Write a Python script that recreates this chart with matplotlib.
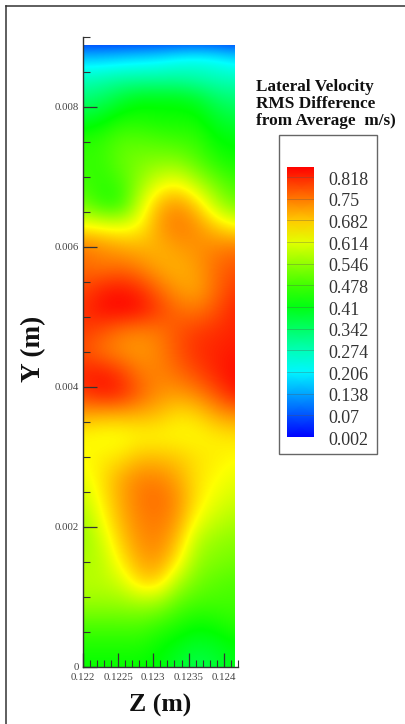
import numpy as np
import matplotlib
matplotlib.use("Agg")
import matplotlib.pyplot as plt
from matplotlib.colors import LinearSegmentedColormap, Normalize
from matplotlib.patches import Rectangle
from matplotlib.lines import Line2D
from matplotlib.ticker import FixedLocator

plt.rcParams['font.family'] = ['Liberation Serif', 'DejaVu Serif']

W, H = 406, 724

# grid spacing of the field (rows listed from y=0 upward, columns from z=0.122)
z_first, z_step, z_count = 0.122, 0.00027, 9
y_first, y_step, y_count = 0.0, 0.0003, 31
z_data_end, y_data_end = 0.12416, 0.00889

velocity_rows = [
    [.43, .43, .43, .43, .42, .39, .36, .38, .41],
    [.45, .45, .45, .45, .43, .41, .39, .40, .42],
    [.49, .49, .49, .49, .47, .45, .43, .44, .46],
    [.55, .55, .55, .56, .55, .50, .48, .48, .48],
    [.58, .58, .60, .67, .67, .57, .52, .50, .49],
    [.57, .58, .65, .71, .72, .65, .55, .53, .52],
    [.55, .60, .68, .73, .74, .69, .58, .55, .54],
    [.56, .63, .70, .74, .75, .72, .63, .59, .57],
    [.59, .65, .71, .75, .76, .73, .66, .62, .60],
    [.62, .66, .71, .74, .74, .71, .66, .64, .62],
    [.64, .65, .66, .69, .69, .68, .66, .65, .64],
    [.64, .63, .63, .64, .64, .64, .64, .65, .66],
    [.71, .70, .70, .70, .69, .66, .67, .71, .73],
    [.80, .83, .82, .77, .73, .72, .74, .78, .83],
    [.82, .83, .80, .75, .74, .76, .79, .82, .84],
    [.78, .75, .73, .72, .74, .78, .81, .82, .83],
    [.80, .78, .75, .74, .75, .78, .80, .81, .82],
    [.81, .84, .85, .84, .80, .76, .75, .78, .82],
    [.79, .82, .83, .81, .76, .72, .71, .76, .80],
    [.76, .75, .76, .74, .71, .70, .72, .76, .78],
    [.75, .73, .71, .70, .70, .72, .73, .74, .75],
    [.64, .63, .62, .64, .72, .75, .73, .68, .64],
    [.52, .46, .46, .60, .70, .73, .68, .58, .52],
    [.48, .46, .48, .55, .62, .64, .58, .52, .48],
    [.47, .47, .51, .53, .54, .54, .50, .46, .44],
    [.46, .47, .50, .50, .49, .48, .47, .43, .42],
    [.40, .42, .45, .45, .44, .44, .44, .40, .38],
    [.33, .35, .39, .42, .42, .42, .40, .35, .33],
    [.27, .28, .29, .29, .29, .29, .28, .27, .27],
    [.17, .17, .18, .19, .20, .22, .23, .22, .19],
    [.002, .002, .002, .002, .002, .002, .002, .002, .002],
]

legend_levels = [0.818, 0.75, 0.682, 0.614, 0.546, 0.478, 0.41, 0.342, 0.274, 0.206, 0.138, 0.07, 0.002]
legend_labels = ['0.818', '0.75', '0.682', '0.614', '0.546', '0.478', '0.41', '0.342', '0.274', '0.206', '0.138', '0.07', '0.002']
value_min, value_max = 0.002, 0.85

z_major = [0.122, 0.1225, 0.123, 0.1235, 0.124]
z_major_labels = ['0.122', '0.1225', '0.123', '0.1235', '0.124']
z_minor = [0.1221, 0.1222, 0.1223, 0.1224, 0.1226, 0.1227, 0.1228, 0.1229, 0.1231, 0.1232, 0.1233, 0.1234,
           0.1236, 0.1237, 0.1238, 0.1239, 0.1241, 0.1242]
y_major = [0, 0.002, 0.004, 0.006, 0.008]
y_major_labels = ['0', '0.002', '0.004', '0.006', '0.008']
y_minor = [0.0005, 0.001, 0.0015, 0.0025, 0.003, 0.0035, 0.0045, 0.005, 0.0055, 0.0065, 0.007, 0.0075, 0.0085, 0.009]

title_lines = ['Lateral Velocity', 'RMS Difference', 'from Average  m/s)']

cmap = LinearSegmentedColormap.from_list(
    'tecplot', ['#0000ff', '#00ffff', '#00ff00', '#ffff00', '#ff0000'], N=512)
norm = Normalize(value_min, value_max)


def px_axes(fig, left, top, right, bottom, **kw):
    return fig.add_axes([left / W, 1 - bottom / H, (right - left) / W, (bottom - top) / H], **kw)


fig = plt.figure(figsize=(W / 100, H / 100), dpi=100, facecolor='white')

# outer frame
fig.add_artist(Line2D([5.5 / W, 5.5 / W], [0, 1 - 6 / H], color='#333333', lw=1.1))
fig.add_artist(Line2D([5.5 / W, 405 / W], [1 - 6 / H, 1 - 6 / H], color='#333333', lw=1.1))

# main field
ax = px_axes(fig, 83, 37, 237.8, 667)
extent = (z_first - z_step / 2, z_first + z_step * (z_count - 0.5),
          y_first - y_step / 2, y_first + y_step * (y_count - 0.5))
im = ax.imshow(np.array(velocity_rows), origin='lower', extent=extent, aspect='auto',
               interpolation='bicubic', interpolation_stage='data', cmap=cmap, norm=norm, zorder=1)
clip = Rectangle((0.122, 0), z_data_end - 0.122, y_data_end, transform=ax.transData)
im.set_clip_path(clip)
ax.set_xlim(0.122, 0.1242)
ax.set_ylim(0, 0.009)
for s in ('top', 'right'):
    ax.spines[s].set_visible(False)
for s in ('left', 'bottom'):
    ax.spines[s].set_color('#333333')
    ax.spines[s].set_linewidth(1.0)
    ax.spines[s].set_zorder(5)
ax.patch.set_alpha(0)
ax.xaxis.set_major_locator(FixedLocator(z_major))
ax.xaxis.set_minor_locator(FixedLocator(z_minor))
ax.yaxis.set_major_locator(FixedLocator(y_major))
ax.yaxis.set_minor_locator(FixedLocator(y_minor))
ax.set_xticklabels(z_major_labels)
ax.set_yticklabels(y_major_labels)
ax.tick_params(which='major', direction='in', length=10, width=0.9, color='#333333',
               labelsize=7.8, labelcolor='#444444')
ax.tick_params(axis='x', which='major', pad=4.5)
ax.tick_params(axis='y', which='major', pad=3)
ax.tick_params(which='minor', direction='in', length=5.2, width=0.8, color='#333333')
ax.set_axisbelow(False)

fig.text(160 / W, 1 - 705 / H, 'Z (m)', fontsize=18.5, fontweight='bold', ha='center', va='center', color='#111111')
fig.text(34 / W, 1 - 349 / H, 'Y (m)', fontsize=19.5, fontweight='bold', rotation=90, ha='center', va='center', color='#111111')

# legend
for i, line in enumerate(title_lines):
    fig.text(256 / W, 1 - (87 + 17 * i) / H, line, fontsize=12.4, fontweight='bold', ha='left', va='center', color='#111111')

fig.add_artist(Rectangle((279 / W, 1 - 454 / H), 98 / W, 319 / H, transform=fig.transFigure,
                         fill=False, ec='#666666', lw=1.0))

cax = px_axes(fig, 287, 167, 314, 437)
bar_y = [value_min] + legend_levels[::-1][1:] + [value_max]
bar = np.array([bar_y, bar_y]).T
cax.pcolormesh([0, 1], bar_y, bar, shading='gouraud', cmap=cmap, norm=norm)
cax.set_xlim(0, 1)
cax.set_ylim(value_min, value_max)
cax.set_xticks([])
cax.set_yticks([])
for s in cax.spines.values():
    s.set_visible(False)
for lev, lab in zip(legend_levels, legend_labels):
    if lev > value_min:
        cax.axhline(lev, color='#555555', lw=0.5, alpha=0.45)
    cax.annotate(lab, xy=(1, lev), xycoords=('axes fraction', 'data'), xytext=(10, -2.2),
                 textcoords='offset points', fontsize=13, color='#333333', ha='left', va='center',
                 annotation_clip=False)

fig.savefig('out.png', dpi=100, facecolor='white')
